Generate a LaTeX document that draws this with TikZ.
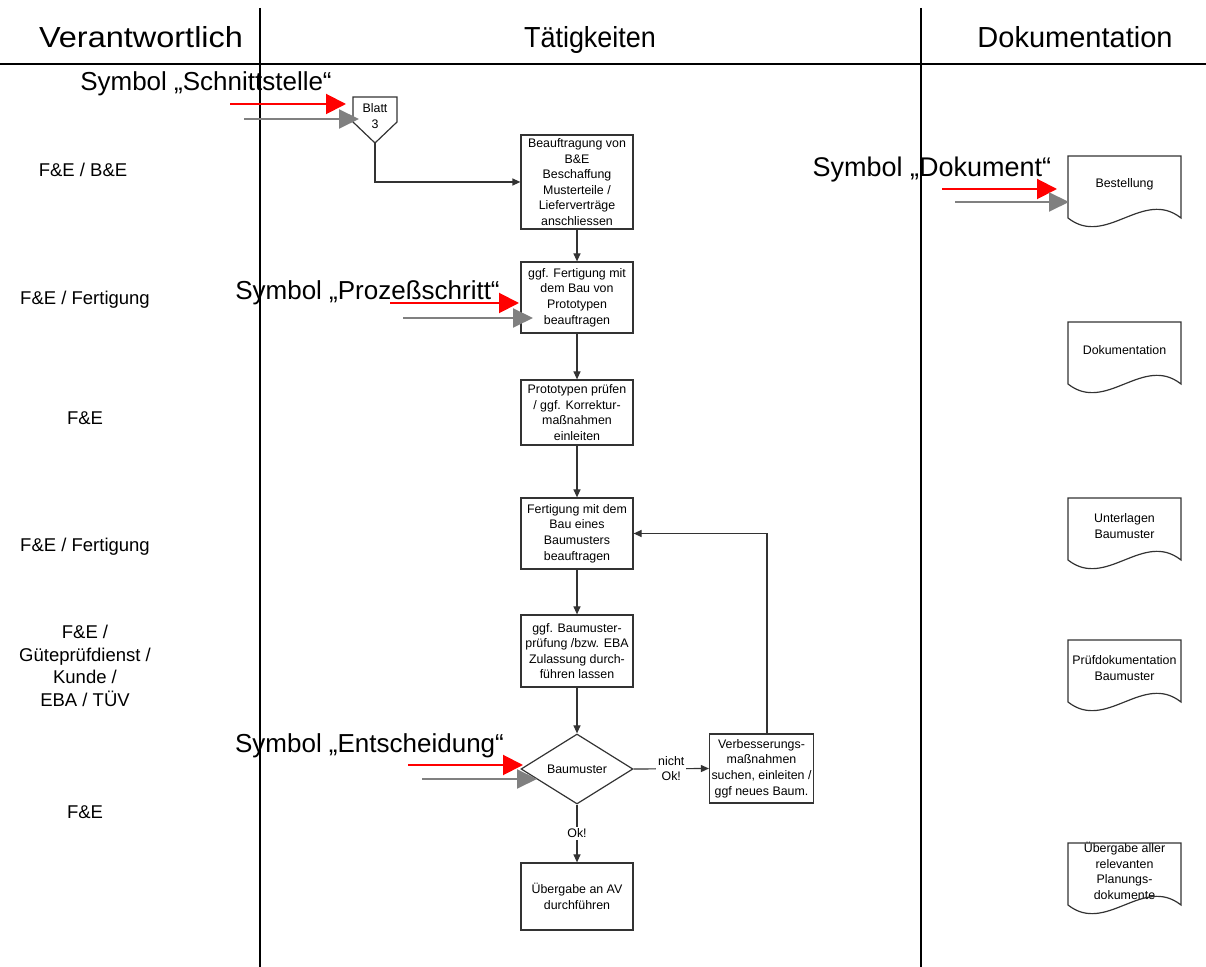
\documentclass[tikz,border=0pt]{standalone}
\usepackage{fontspec}
\setmainfont{Liberation Sans}
\usetikzlibrary{arrows.meta,shapes.geometric}

% document symbol with a wavy lower edge: name, centre x, top y, text
\newcommand\docsym[4]{%
  \node[doctext] (#1) at (#2,#3+28) {#4};
  \draw[outline] (#2-56.5,#3) -- (#2+56.5,#3) -- (#2+56.5,#3+62)
    .. controls (#2+18.5,#3+32) and (#2-18.5,#3+92) .. (#2-56.5,#3+62) -- cycle;
}

\begin{document}
\begin{tikzpicture}[x=0.5pt,y=-0.5pt,
  outline/.style={draw=black!80, line width=0.6pt},
  proc/.style={outline, align=center, inner sep=1pt,
    font=\fontsize{6.2}{7.8}\selectfont},
  decision/.style={outline, diamond, aspect=1.6, inner sep=0pt,
    minimum width=56pt, minimum height=35pt,
    font=\fontsize{6.2}{7.8}\selectfont},
  doctext/.style={align=center, inner sep=0pt,
    font=\fontsize{6.2}{7.8}\selectfont},
  role/.style={align=center, inner sep=0pt,
    font=\fontsize{9.25}{11.35}\selectfont},
  header/.style={anchor=base, inner sep=0pt, font=\fontsize{14.5}{16}\selectfont},
  symtext/.style={anchor=base, inner sep=0pt, font=\fontsize{13}{15}\selectfont},
  conn/.style={draw=black!80, line width=0.6pt,
    -{Triangle[length=4pt,width=3.5pt]}},
  lbl/.style={fill=white, align=center, inner sep=1pt,
    font=\fontsize{6.2}{7.8}\selectfont},
  redarrow/.style={draw=red, line width=1pt,
    -{Triangle[length=10pt,width=10pt]}},
  grayarrow/.style={draw=gray, line width=1pt,
    -{Triangle[length=10pt,width=9.5pt]}},
  lane/.style={draw=black, line width=0.8pt}
]
\useasboundingbox (0,0) rectangle (1206,967);

% column headers and lanes
\node[header, xscale=1.12] (hv) at (141,48) {Verantwortlich};
\node[header, xscale=0.93] (ht) at (590,48) {Tätigkeiten};
\node[header] (hd) at (1075,48) {Dokumentation};
\draw[lane, line width=1pt] (0,64) -- (1206,64);
\draw[lane] (260,8) -- (260,967);
\draw[lane] (921,8) -- (921,967);

% responsibilities
\node[role] (r1) at (83,170) {F\&E / B\&E};
\node[role] (r2) at (85,300) {F\&E / Fertigung};
\node[role] (r3) at (85,418) {F\&E};
\node[role] (r4) at (85,547) {F\&E / Fertigung};
\node[role] (r5) at (85,666) {F\&E /\\Güteprüfdienst /\\Kunde /\\EBA / TÜV};
\node[role] (r6) at (85,812) {F\&E};

% off-page connector
\node[doctext] (off) at (375,116) {Blatt\\3};
\draw[outline] (353,97) -- (397,97) -- (397,122) -- (375,143) -- (353,122) -- cycle;
\coordinate (offtip) at (375,143);

% activities
\node[proc, minimum width=56pt, minimum height=47pt] (b1) at (577,182)
  {Beauftragung von\\B\&E\\Beschaffung\\Musterteile /\\Lieferverträge\\anschliessen};
\node[proc, minimum width=56pt, minimum height=35.5pt] (b2) at (577,297.5)
  {ggf. Fertigung mit\\dem Bau von\\Prototypen\\beauftragen};
\node[proc, minimum width=56pt, minimum height=32.5pt] (b3) at (577,412.5)
  {Prototypen prüfen\\/ ggf. Korrektur-\\maßnahmen\\einleiten};
\node[proc, minimum width=56pt, minimum height=35.5pt] (b4) at (577,533.5)
  {Fertigung mit dem\\Bau eines\\Baumusters\\beauftragen};
\node[proc, minimum width=56pt, minimum height=36pt] (b5) at (577,651)
  {ggf. Baumuster-\\prüfung /bzw. EBA\\Zulassung durch-\\führen lassen};
\node[decision] (dia) at (577,769) {Baumuster};
\node[proc, minimum width=56pt, minimum height=33.5pt] (b6) at (577,896.5)
  {Übergabe an AV\\durchführen};
\node[proc, minimum width=51.5pt, minimum height=34.5pt] (b7) at (761.5,768.5)
  {Verbesserungs-\\maßnahmen\\suchen, einleiten /\\ggf neues Baum.};
\coordinate (loopx) at (767,0);

% flow
\draw[conn] (offtip) |- (b1.west);
\draw[conn] (b1) -- (b2);
\draw[conn] (b2) -- (b3);
\draw[conn] (b3) -- (b4);
\draw[conn] (b4) -- (b5);
\draw[conn] (b5) -- (dia);
\draw[conn] (dia.south) -- node[lbl] (lok) {Ok!} (b6.north);
\draw[conn] (dia.east) -- node[lbl] (lnok) {nicht\\Ok!} (b7.west);
\draw[conn] (b7.north -| loopx) |- (b4.east);

% documents
\docsym{d1}{1124.5}{156}{Bestellung}
\docsym{d2}{1124.5}{322}{Dokumentation}
\docsym{d3}{1124.5}{498}{Unterlagen\\Baumuster}
\docsym{d4}{1124.5}{640}{Prüfdokumentation\\Baumuster}
\docsym{d5}{1124.5}{843}{Übergabe aller\\relevanten\\Planungs-\\dokumente}

% symbol legend callouts
\node[symtext] (s1) at (206,91) {Symbol „Schnittstelle“};
\coordinate (s1r0) at (230,104); \coordinate (s1r1) at (346,104);
\coordinate (s1g0) at (244,119); \coordinate (s1g1) at (359,119);
\draw[redarrow] (s1r0) -- (s1r1);
\draw[grayarrow] (s1g0) -- (s1g1);

\node[symtext, font=\fontsize{13.5}{15}\selectfont] (s2) at (932,177) {Symbol „Dokument“};
\coordinate (s2r0) at (942,189); \coordinate (s2r1) at (1057,189);
\coordinate (s2g0) at (955,202); \coordinate (s2g1) at (1069,202);
\draw[redarrow] (s2r0) -- (s2r1);
\draw[grayarrow] (s2g0) -- (s2g1);

\node[symtext] (s3) at (367.5,300) {Symbol „Prozeßschritt“};
\coordinate (s3r0) at (390,303); \coordinate (s3r1) at (519,303);
\coordinate (s3g0) at (403,318); \coordinate (s3g1) at (533,318);
\draw[redarrow] (s3r0) -- (s3r1);
\draw[grayarrow] (s3g0) -- (s3g1);

\node[symtext] (s4) at (369.5,753) {Symbol „Entscheidung“};
\coordinate (s4r0) at (408,765); \coordinate (s4r1) at (523,765);
\coordinate (s4g0) at (422,779); \coordinate (s4g1) at (537,779);
\draw[redarrow] (s4r0) -- (s4r1);
\draw[grayarrow] (s4g0) -- (s4g1);
\end{tikzpicture}
\end{document}
